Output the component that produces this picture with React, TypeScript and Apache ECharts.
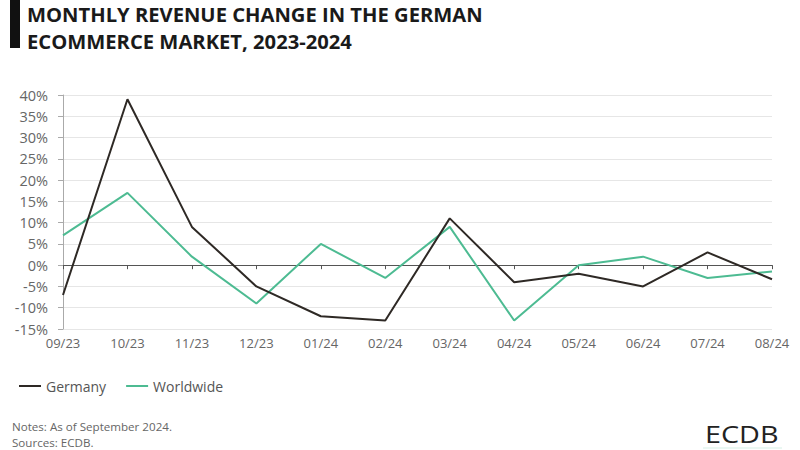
import React, { useEffect, useRef } from "react";
import * as echarts from "echarts";

const categories = ["09/23", "10/23", "11/23", "12/23", "01/24", "02/24", "03/24", "04/24", "05/24", "06/24", "07/24", "08/24"];
const germany = [-7, 39, 9, -5, -12, -13, 11, -4, -2, -5, 3, -3.3];
const worldwide = [7, 17, 2, -9, 5, -3, 9, -13, 0, 2, -3, -1.5];
const yTicks = { min: -15, max: 40, interval: 5 };
const titleLines = ["MONTHLY REVENUE CHANGE IN THE GERMAN", "ECOMMERCE MARKET, 2023-2024"];
const noteLines = ["Notes: As of September 2024.", "Sources: ECDB."];

const FONT = "'Open Sans', 'Noto Sans', sans-serif";

export default function App() {
  const ref = useRef<HTMLDivElement>(null);
  useEffect(() => {
    if (!ref.current) return;
    const chart = echarts.init(ref.current, null, { renderer: "svg" });
    chart.setOption({
      animation: false,
      backgroundColor: "#ffffff",
      textStyle: { fontFamily: FONT },
      grid: { left: 63, right: 28, top: 95, bottom: 121, containLabel: false },
      legend: {
        left: 14,
        top: 374,
        itemWidth: 22,
        itemHeight: 2,
        itemGap: 20,
        icon: "rect",
        textStyle: { fontSize: 14, color: "#555", fontFamily: FONT },
        data: ["Germany", "Worldwide"],
      },
      xAxis: [
        {
          type: "category",
          data: categories,
          boundaryGap: false,
          position: "bottom",
          axisLine: { show: false, onZero: false },
          axisTick: { show: false },
          axisLabel: { fontSize: 13, color: "#666", margin: 7, fontFamily: FONT },
        },
        {
          type: "category",
          data: categories,
          boundaryGap: false,
          position: "top",
          axisLine: { show: true, onZero: true, lineStyle: { color: "#555", width: 1 } },
          axisTick: { show: true, inside: true, length: 4, lineStyle: { color: "#555" } },
          axisLabel: { show: false },
        },
      ],
      yAxis: {
        type: "value",
        min: yTicks.min,
        max: yTicks.max,
        interval: yTicks.interval,
        axisLine: { show: true, lineStyle: { color: "#aaaaaa" } },
        axisTick: { show: true, length: 5, lineStyle: { color: "#aaaaaa" } },
        splitLine: { lineStyle: { color: "#e6e6e6" } },
        axisLabel: { formatter: "{value}%", fontSize: 14.5, color: "#666", margin: 15, fontFamily: FONT },
      },
      series: [
        {
          name: "Germany",
          type: "line",
          data: germany,
          xAxisIndex: 0,
          symbol: "none",
          lineStyle: { color: "#2e2925", width: 2 },
          itemStyle: { color: "#2e2925" },
          z: 3,
        },
        {
          name: "Worldwide",
          type: "line",
          data: worldwide,
          xAxisIndex: 0,
          symbol: "none",
          lineStyle: { color: "#4dbb92", width: 2 },
          itemStyle: { color: "#4dbb92" },
          z: 2,
        },
      ],
      graphic: [
        { type: "rect", shape: { x: 10, y: 0, width: 10, height: 48 }, style: { fill: "#111" } },
        ...titleLines.map((t, i) => ({
          type: "text",
          x: 27,
          y: 13.8 + i * 27.4,
          style: { text: t, font: `bold 20.2px ${FONT}`, fill: "#1a1a1a", verticalAlign: "middle" },
        })),
        ...noteLines.map((t, i) => ({
          type: "text",
          x: 12,
          y: 426 + i * 16,
          style: { text: t, font: `11.6px ${FONT}`, fill: "#666", verticalAlign: "middle" },
        })),
        {
          type: "text",
          x: 705,
          y: 423,
          scaleX: 1.25,
          style: { text: "ECDB", font: `23px ${FONT}`, fill: "#222" },
        },
        {
          type: "line",
          shape: { x1: 703, y1: 448, x2: 782, y2: 448 },
          style: { stroke: "#e3f5ee", lineWidth: 1.5 },
        },
      ],
    });
    return () => chart.dispose();
  }, []);
  return <div ref={ref} style={{ width: 800, height: 450, position: "fixed", left: 0, top: 0 }} />;
}
